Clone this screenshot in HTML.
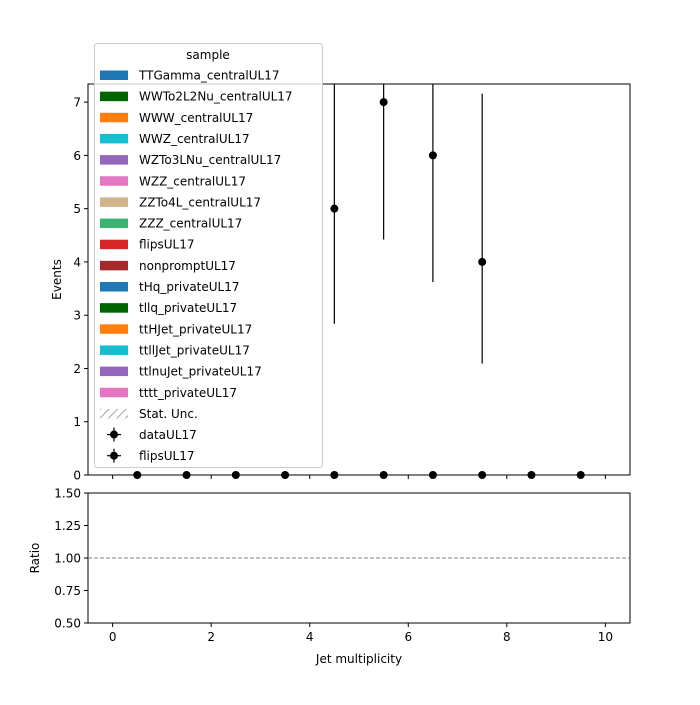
<!DOCTYPE html>
<html><head><meta charset="utf-8"><style>
body{margin:0;background:#fff;font-family:"Liberation Sans","DejaVu Sans",sans-serif;}
svg text{font-family:"DejaVu Sans","Liberation Sans",sans-serif;}
</style></head><body>
<svg id="chart" width="700" height="700" xmlns="http://www.w3.org/2000/svg">
<defs><pattern id="hatch" patternUnits="userSpaceOnUse" width="6" height="6" patternTransform="rotate(45)"><line x1="0" y1="0" x2="0" y2="6" stroke="#888" stroke-width="1.5"/></pattern></defs>
<g id="main"></g>
</svg>
<script>
const samples=["TTGamma_centralUL17","WWTo2L2Nu_centralUL17","WWW_centralUL17","WWZ_centralUL17","WZTo3LNu_centralUL17","WZZ_centralUL17","ZZTo4L_centralUL17","ZZZ_centralUL17","flipsUL17","nonpromptUL17","tHq_privateUL17","tllq_privateUL17","ttHJet_privateUL17","ttllJet_privateUL17","ttlnuJet_privateUL17","tttt_privateUL17"];
const sampleColors=["#1f77b4","#006400","#ff7f0e","#17becf","#9467bd","#e377c2","#d2b48c","#3cb371","#d62728","#a52a2a","#1f77b4","#006400","#ff7f0e","#17becf","#9467bd","#e377c2"];
const dataX=[4.5,5.5,6.5,7.5];
const dataY=[5,7,6,4];
const dataLo=[2.84,4.42,3.62,2.09];
const dataHi=[8.38,10.77,9.58,7.16];
const flipsX=[0.5,1.5,2.5,3.5,4.5,5.5,6.5,7.5,8.5,9.5];
const flipsY=[0,0,0,0,0,0,0,0,0,0];
const xTicks=[0,2,4,6,8,10];
const yTicks=[0,1,2,3,4,5,6,7];
const rTicks=[0.5,0.75,1.0,1.25,1.5];
const rLabels=["0.50","0.75","1.00","1.25","1.50"];

const NS="http://www.w3.org/2000/svg";
const g=document.getElementById('main');
function el(t,a,txt){const e=document.createElementNS(NS,t);for(const k in a)e.setAttribute(k,a[k]);if(txt!==undefined)e.textContent=txt;g.appendChild(e);return e;}
const L=88,R=630,T=84,B=475,RT=493,RB=623;
const X=v=>L+(v+0.5)/11*(R-L);
const Y=v=>B-v/7.34*(B-T);
const RY=v=>RB-(v-0.5)/1.0*(RB-RT);
const cl=v=>Math.max(T,Math.min(B,v));

// data error bars and points
dataX.forEach((x,i)=>{
  const l=el('line',{x1:X(x),x2:X(x),y1:cl(Y(dataLo[i])),y2:cl(Y(dataHi[i])),stroke:'#000','stroke-width':1.2});
  
  
  const c=el('circle',{cx:X(x),cy:Y(dataY[i]),r:4,fill:'#000'});
  
  
});
flipsX.forEach((x,i)=>{
  const c=el('circle',{cx:X(x),cy:Y(flipsY[i]),r:4,fill:'#000'});
  
  
});
// axes frames
let f=el('rect',{x:L,y:T,width:R-L,height:B-T,fill:'none',stroke:'#000','stroke-width':1});


f=el('rect',{x:L,y:RT,width:R-L,height:RB-RT,fill:'none',stroke:'#000','stroke-width':1});


let rl=el('line',{x1:L,x2:R,y1:RY(1),y2:RY(1),stroke:'#808080','stroke-dasharray':'4,2','stroke-width':1});


// ticks
xTicks.forEach(v=>{
  el('line',{x1:X(v),x2:X(v),y1:B,y2:B+4,stroke:'#000'});
  el('line',{x1:X(v),x2:X(v),y1:RB,y2:RB+4,stroke:'#000'});
  const t=el('text',{x:X(v),y:RB+18,'font-size':12,'text-anchor':'middle'},String(v));
  
  
});
yTicks.forEach(v=>{
  el('line',{x1:L-4,x2:L,y1:Y(v),y2:Y(v),stroke:'#000'});
  const t=el('text',{x:L-7,y:Y(v)+4.5,'font-size':12,'text-anchor':'end'},String(v));
  
  
});
rTicks.forEach((v,i)=>{
  el('line',{x1:L-4,x2:L,y1:RY(v),y2:RY(v),stroke:'#000'});
  const t=el('text',{x:L-7,y:RY(v)+4.5,'font-size':12,'text-anchor':'end'},rLabels[i]);
  
  
});
let t=el('text',{x:0,y:0,'font-size':12,'text-anchor':'middle',transform:`translate(61,${(T+B)/2}) rotate(-90)`},'Events');

t=el('text',{x:0,y:0,'font-size':12,'text-anchor':'middle',transform:`translate(39,${(RT+RB)/2}) rotate(-90)`},'Ratio');

t=el('text',{x:(L+R)/2,y:663,'font-size':12,'text-anchor':'middle'},'Jet multiplicity');

// legend
let lb=el('rect',{x:94.5,y:43.5,width:228,height:424,rx:3,fill:'#fff','fill-opacity':0.8,stroke:'#ccc'});

t=el('text',{x:208,y:59,'font-size':12,'text-anchor':'middle'},'sample');

const rowY=i=>75+i*21.15;
samples.forEach((s,i)=>{
  const r=el('rect',{x:100,y:rowY(i)-4.5,width:28,height:9.5,fill:sampleColors[i]});
  
  
  const tx=el('text',{x:139,y:rowY(i)+4.5,'font-size':12},s);
  
  
});
let n=samples.length;
let hr=el('rect',{x:100,y:rowY(n)-4.5,width:28,height:9.5,fill:'url(#hatch)'});

t=el('text',{x:139,y:rowY(n)+4.5,'font-size':12},'Stat. Unc.');

["dataUL17","flipsUL17"].forEach((s,k)=>{
  const y=rowY(n+1+k);
  el('line',{x1:114,x2:114,y1:y-7,y2:y+7,stroke:'#000','stroke-width':1.2});
  el('line',{x1:107,x2:121,y1:y,y2:y,stroke:'#000','stroke-width':1.2});
  el('circle',{cx:114,cy:y,r:4,fill:'#000'});
  const tx=el('text',{x:139,y:y+4.5,'font-size':12},s);
  
  
});
</script>
</body></html>
